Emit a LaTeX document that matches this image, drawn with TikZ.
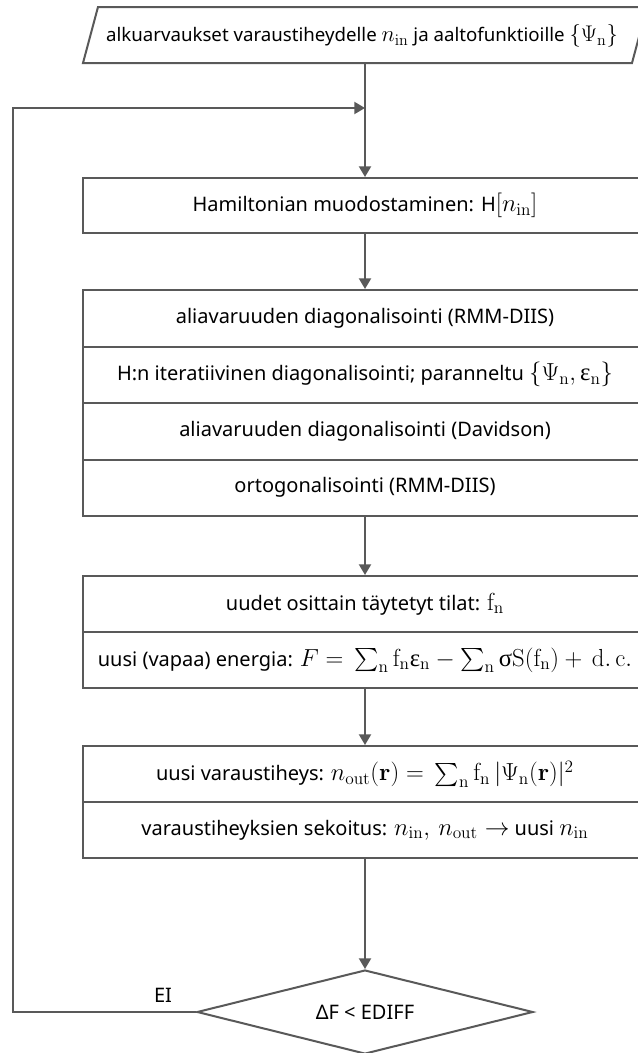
\documentclass[tikz,border=0pt]{standalone}
\usepackage{fix-cm}
\usepackage{exscale}
\usepackage[no-math]{fontspec}
\setmainfont{Noto Sans}
\newfontfamily\grk{Liberation Serif}
\DeclareMathSizes{15}{18.5}{13}{10}
\DeclareMathSizes{14}{17}{12}{10}
\usetikzlibrary{shapes.geometric,arrows.meta}
\definecolor{ln}{RGB}{89,89,89}
\newcommand\uep{\mbox{\fontsize{18.5}{18}\grk ε}}
\newcommand\usg{\mbox{\fontsize{18.5}{18}\grk σ}}
\tikzset{
  x=0.75pt, y=-0.75pt,
  txt/.style={font=\fontsize{15}{18}\selectfont, text=black},
  rowbox/.style={txt, draw=ln, line width=1.5pt, fill=white, minimum width=423pt, minimum height=42.4pt, inner sep=0pt, anchor=north},
  rowbig/.style={rowbox, minimum height=42.375pt},
  rowmid/.style={rowbox, minimum height=42pt},
  flow/.style={draw=ln, line width=1.5pt, -{Triangle[length=8pt,width=9pt]}},
}
\begin{document}
\begin{tikzpicture}
\useasboundingbox (0,0) rectangle (638,1053);
\clip (0,0) rectangle (638,1053);
\fill[white] (0,0) rectangle (638,1053);
% start parallelogram
\draw[draw=ln, line width=1.5pt, fill=white] (83,63) -- (98,7) -- (647,7) -- (632,63) -- cycle;
\node[txt, font=\fontsize{14}{18}\selectfont] (start) at (362,36) {alkuarvaukset varaustiheydelle $n_{\mathrm{in}}$ ja aaltofunktioille $\{\Psi_{\mathrm{n}}\}$};
\coordinate (startb) at (365,63);
% boxes
\node[rowbox, minimum height=41.25pt] (h) at (365,177) {Hamiltonian muodostaminen: H$[n_{\mathrm{in}}]$};
\node[rowbig] (d1) at (365,289) {aliavaruuden diagonalisointi (RMM-DIIS)};
\node[rowbig] (d2) at (365,345.5) {H:n iteratiivinen diagonalisointi; paranneltu $\{\Psi_{\mathrm{n}},\,$\uep$_{\mathrm{n}}\}$};
\node[rowbig] (d3) at (365,402) {aliavaruuden diagonalisointi (Davidson)};
\node[rowbig] (d4) at (365,458.5) {ortogonalisointi (RMM-DIIS)};
\node[rowmid] (o1) at (365,575) {uudet osittain täytetyt tilat: $\mathrm{f}_{\mathrm{n}}$};
\node[rowmid] (o2) at (365,631) {uusi (vapaa) energia: $F =\, \sum_{\mathrm{n}} \mathrm{f}_{\mathrm{n}}$\uep$_{\mathrm{n}} - \sum_{\mathrm{n}}\,$\usg$\mathrm{S}(\mathrm{f}_{\mathrm{n}}) +\, \mathrm{d.\,c.}$};
\node[rowmid] (m1) at (365,745) {uusi varaustiheys: $n_{\mathrm{out}}(\mathbf{r}) =\, \sum_{\mathrm{n}} \mathrm{f}_{\mathrm{n}}\,|\Psi_{\mathrm{n}}(\mathbf{r})|^2$};
\node[rowmid] (m2) at (365,801) {varaustiheyksien sekoitus: $n_{\mathrm{in}},\, n_{\mathrm{out}} \rightarrow$ uusi $n_{\mathrm{in}}$};
% decision
\node[txt, shape=diamond, draw=ln, line width=1.5pt, fill=white, aspect=4, inner sep=0pt, minimum width=252pt, minimum height=63pt] (dec) at (365,1012) {ΔF < EDIFF};
\node[txt] (ei) at (163,995) {EI};
% connectors
\coordinate (join) at (365,108);
\coordinate (lb) at (13,1012);
\coordinate (lt) at (13,108);
\draw[flow] (startb) -- (h.north);
\draw[flow] (h.south) -- (d1.north);
\draw[flow] (d4.south) -- (o1.north);
\draw[flow] (o2.south) -- (m1.north);
\draw[flow] (m2.south) -- (dec.north);
\draw[flow] (dec.west) -- (lb) -- (lt) -- (join);
\end{tikzpicture}
\end{document}
